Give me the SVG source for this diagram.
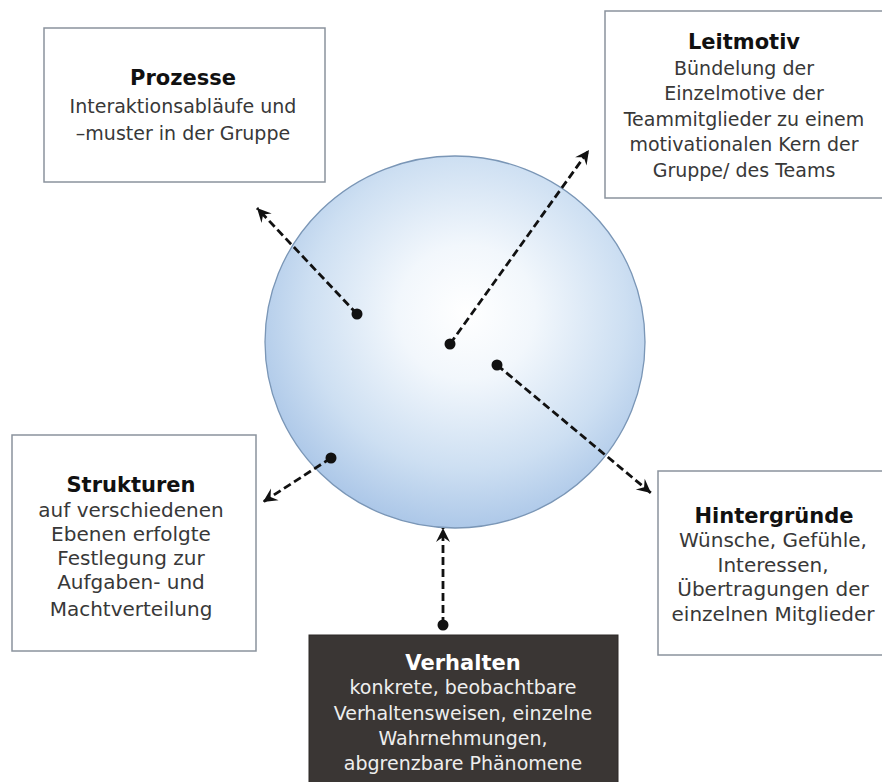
<svg xmlns="http://www.w3.org/2000/svg" width="882" height="782" viewBox="0 0 882 782">
<defs>
<radialGradient id="ball" cx="0.53" cy="0.42" r="0.6">
<stop offset="0" stop-color="#ffffff"/>
<stop offset="0.3" stop-color="#f2f7fc"/>
<stop offset="0.7" stop-color="#cddff2"/>
<stop offset="1" stop-color="#a9c5e7"/>
</radialGradient>
<marker id="arr" viewBox="-15 -8 17 16" markerWidth="17" markerHeight="16" refX="0" refY="0" orient="auto" markerUnits="userSpaceOnUse">
<path d="M0,0 L-14,-7 L-9,0 L-14,7 Z" fill="#111"/>
</marker>
<marker id="dot" viewBox="-6 -6 12 12" markerWidth="12" markerHeight="12" refX="0" refY="0" markerUnits="userSpaceOnUse">
<circle r="5.5" fill="#111"/>
</marker>
</defs>
<style>
.box{fill:#ffffff;stroke:#8a939d;stroke-width:1.5}
.dark{fill:#3a3634;stroke:#2c2927;stroke-width:1}
.t{font-family:"DejaVu Sans",sans-serif;font-weight:bold;font-size:21px;fill:#111;text-anchor:middle}
.b{font-family:"DejaVu Sans",sans-serif;font-size:19px;fill:#383838;text-anchor:middle}
.b2{font-size:20px}
.tw{fill:#ffffff}
.bw{fill:#eeeeee}
.c{fill:none;stroke:#111;stroke-width:2.8;stroke-dasharray:8 4;marker-start:url(#dot);marker-end:url(#arr)}
</style>
<rect width="882" height="782" fill="#ffffff"/>
<g id="circle">
<ellipse cx="455" cy="342" rx="190" ry="186" fill="url(#ball)" stroke="#7a96b6" stroke-width="1.3"/>
</g>
<g id="prozesse">
<rect class="box" x="44" y="28" width="281" height="154"/>
<text class="t" x="183" y="85">Prozesse</text>
<text class="b" x="183" y="113">Interaktionsabläufe und</text>
<text class="b" x="183" y="140">–muster in der Gruppe</text>
</g>
<g id="leitmotiv">
<rect class="box" x="605" y="11" width="290" height="187"/>
<text class="t" x="744" y="49">Leitmotiv</text>
<text class="b" x="744" y="75">Bündelung der</text>
<text class="b" x="744" y="100">Einzelmotive der</text>
<text class="b" x="744" y="126">Teammitglieder zu einem</text>
<text class="b" x="744" y="151">motivationalen Kern der</text>
<text class="b" x="744" y="177">Gruppe/ des Teams</text>
</g>
<g id="strukturen">
<rect class="box" x="12" y="435" width="244" height="216"/>
<text class="t" x="131" y="492">Strukturen</text>
<text class="b b2" x="131" y="517">auf verschiedenen</text>
<text class="b b2" x="131" y="541">Ebenen erfolgte</text>
<text class="b b2" x="131" y="565">Festlegung zur</text>
<text class="b b2" x="131" y="589">Aufgaben- und</text>
<text class="b b2" x="131" y="616">Machtverteilung</text>
</g>
<g id="hintergruende">
<rect class="box" x="658" y="471" width="240" height="184"/>
<text class="t" x="774" y="523">Hintergründe</text>
<text class="b b2" x="773" y="547">Wünsche, Gefühle,</text>
<text class="b b2" x="773" y="572">Interessen,</text>
<text class="b b2" x="773" y="596">Übertragungen der</text>
<text class="b b2" x="773" y="621">einzelnen Mitglieder</text>
</g>
<g id="verhalten">
<rect class="dark" x="309" y="635" width="309" height="150"/>
<text class="t tw" x="463" y="670">Verhalten</text>
<text class="b bw" x="463" y="694">konkrete, beobachtbare</text>
<text class="b bw" x="463" y="720">Verhaltensweisen, einzelne</text>
<text class="b bw" x="463" y="745">Wahrnehmungen,</text>
<text class="b bw" x="463" y="770">abgrenzbare Phänomene</text>
</g>
<g id="connectors">
<line class="c" x1="357" y1="314" x2="257" y2="208"/>
<line class="c" x1="450" y1="344" x2="589" y2="150"/>
<line class="c" x1="497" y1="365" x2="651" y2="493"/>
<line class="c" x1="331" y1="458" x2="263" y2="502"/>
<line class="c" x1="443" y1="625" x2="443" y2="528"/>
</g>
</svg>
